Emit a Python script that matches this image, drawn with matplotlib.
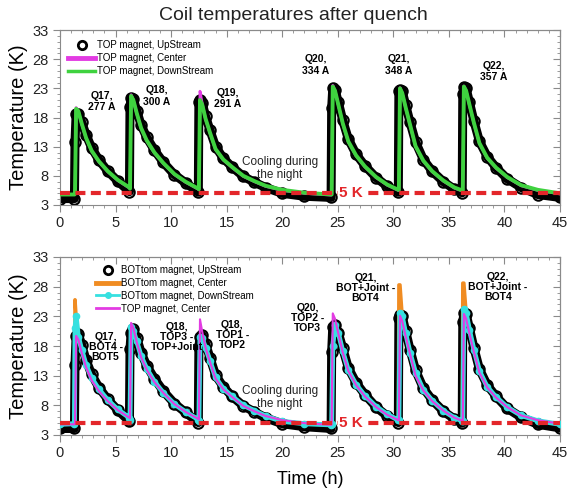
import matplotlib
matplotlib.use("Agg")
import matplotlib.pyplot as plt
from matplotlib.lines import Line2D
from matplotlib.ticker import MultipleLocator, FixedLocator

plt.rcParams['font.family'] = ['Liberation Sans', 'DejaVu Sans']

# ---------------- data ----------------
time_h = [0.0, 1.3, 1.35, 1.45, 1.65, 1.95, 2.35, 2.85, 3.5, 4.3, 5.2, 6.25,
          6.3, 6.4, 6.6, 6.9, 7.3, 7.8, 8.5, 9.3, 10.3, 11.3, 12.45,
          12.5, 12.6, 12.8, 13.1, 13.5, 14.0, 14.7, 15.5, 16.5, 17.5, 18.5, 20.0, 22.0, 24.4,
          24.45, 24.55, 24.75, 25.05, 25.45, 25.95, 26.65, 27.45, 28.45, 29.45, 30.45,
          30.5, 30.6, 30.8, 31.1, 31.5, 32.0, 32.7, 33.5, 34.5, 35.5, 36.2,
          36.25, 36.35, 36.55, 36.85, 37.25, 37.75, 38.45, 39.25, 40.25, 41.5, 43.0, 45.0]

top_upstream = [4.1, 4.1, 13.8, 18.6, 18.6, 17.2, 15.0, 12.8, 10.7, 8.8, 7.1, 5.3,
                19.8, 21.3, 21.2, 19.2, 16.7, 14.6, 12.4, 10.3, 8.2, 6.8, 5.2,
                20.6, 21.0, 20.5, 18.2, 15.8, 13.0, 11.0, 9.5, 7.9, 6.9, 6.0, 5.0, 4.5, 4.3,
                19.6, 23.0, 22.8, 20.6, 17.5, 14.3, 11.7, 9.7, 7.7, 6.2, 5.2,
                22.5, 22.8, 22.5, 20.2, 17.2, 13.8, 10.8, 8.8, 7.0, 5.7, 5.1,
                22.0, 23.3, 23.0, 20.6, 17.4, 13.9, 11.3, 9.4, 7.5, 6.0, 4.8, 4.3]

top_center = [4.8, 4.8, 4.9, 19.7, 19.1, 16.9, 14.4, 12.2, 10.4, 8.7, 7.2, 5.9,
              5.8, 21.9, 21.0, 18.7, 16.1, 14.0, 11.9, 10.1, 8.2, 6.9, 5.7,
              5.6, 22.5, 20.4, 17.7, 15.3, 12.5, 10.7, 9.4, 7.9, 7.0, 6.2, 5.5, 5.0, 4.7,
              4.8, 23.5, 22.6, 20.1, 16.9, 13.8, 11.4, 9.5, 7.7, 6.4, 5.5,
              5.5, 23.1, 22.2, 19.7, 16.7, 13.0, 10.5, 8.7, 7.1, 5.9, 5.4,
              5.3, 23.4, 22.6, 20.1, 17.0, 13.5, 11.0, 9.3, 7.7, 6.3, 5.5, 4.9]

top_downstream = [4.8, 4.8, 4.9, 19.5, 19.1, 17.0, 14.5, 12.3, 10.5, 8.8, 7.3, 6.0,
                  5.8, 21.7, 21.0, 18.8, 16.2, 14.1, 12.0, 10.2, 8.3, 7.0, 5.8,
                  5.7, 21.0, 20.2, 17.8, 15.4, 12.6, 10.8, 9.5, 8.0, 7.1, 6.3, 5.6, 5.1, 4.8,
                  4.8, 23.3, 22.6, 20.2, 17.0, 13.9, 11.5, 9.6, 7.8, 6.5, 5.6,
                  5.6, 23.0, 22.2, 19.8, 16.8, 13.1, 10.6, 8.8, 7.2, 6.0, 5.5,
                  5.4, 23.3, 22.6, 20.2, 17.1, 13.6, 11.1, 9.4, 7.8, 6.4, 5.6, 5.0]

bot_upstream = [4.1, 4.1, 14.8, 19.7, 20.0, 18.2, 15.6, 13.2, 11.0, 9.0, 7.2, 5.3,
                17.5, 20.2, 20.8, 19.4, 16.9, 14.7, 12.5, 10.4, 8.3, 6.8, 5.1,
                17.8, 19.5, 19.8, 18.4, 16.0, 13.1, 11.1, 9.5, 7.9, 6.9, 5.9, 4.9, 4.4, 4.1,
                17.0, 21.2, 21.6, 20.2, 17.6, 14.3, 11.8, 9.8, 7.7, 6.2, 5.1,
                22.8, 23.3, 23.0, 20.6, 17.4, 13.9, 10.9, 8.9, 7.0, 5.7, 5.0,
                22.0, 23.5, 23.4, 21.0, 17.7, 14.1, 11.4, 9.5, 7.5, 6.0, 4.8, 4.2]

bot_center = [4.8, 4.9, 25.8, 23.0, 19.6, 17.4, 14.8, 12.6, 10.7, 8.9, 7.3, 5.9,
              5.6, 21.2, 20.6, 18.8, 16.3, 14.2, 12.0, 10.1, 8.2, 6.9, 5.6,
              5.4, 19.6, 19.3, 17.7, 15.5, 12.7, 10.8, 9.5, 8.0, 7.1, 6.2, 5.3, 4.9, 4.7,
              4.9, 18.0, 21.6, 20.2, 17.1, 13.9, 11.5, 9.6, 7.8, 6.5, 5.5,
              28.3, 28.3, 23.0, 20.2, 16.9, 13.5, 10.6, 8.8, 7.1, 5.9, 5.4,
              28.6, 28.6, 23.6, 20.7, 17.4, 13.8, 11.1, 9.4, 7.7, 6.3, 5.4, 4.8]

bot_downstream = [4.8, 4.9, 21.0, 23.0, 19.6, 17.4, 14.8, 12.6, 10.7, 8.9, 7.3, 5.9,
                  5.6, 21.2, 20.6, 18.8, 16.3, 14.2, 12.0, 10.1, 8.2, 6.9, 5.6,
                  5.4, 19.6, 19.3, 17.7, 15.5, 12.7, 10.8, 9.5, 8.0, 7.1, 6.2, 5.3, 4.9, 4.7,
                  4.9, 18.0, 21.6, 20.2, 17.1, 13.9, 11.5, 9.6, 7.8, 6.5, 5.5,
                  5.5, 23.6, 23.0, 20.2, 16.9, 13.5, 10.6, 8.8, 7.1, 5.9, 5.4,
                  5.3, 24.2, 23.6, 20.7, 17.4, 13.8, 11.1, 9.4, 7.7, 6.3, 5.4, 4.8]

y_ticks = [3, 8, 13, 18, 23, 28, 33]

top_labels = ["Q17,\n277 A", "Q18,\n300 A", "Q19,\n291 A",
              "Q20,\n334 A", "Q21,\n348 A", "Q22,\n357 A"]
top_label_t = [3.8, 8.7, 15.1, 23.0, 30.5, 39.0]
top_label_T = [20.7, 21.7, 21.3, 27.0, 27.0, 25.9]

bot_labels = ["Q17,\nBOT4 -\nBOT5", "Q18,\nTOP3 -\nTOP+Joint", "Q18,\nTOP1 -\nTOP2",
              "Q20,\nTOP2 -\nTOP3", "Q21,\nBOT+Joint -\nBOT4", "Q22,\nBOT+Joint -\nBOT4"]
bot_label_t = [4.1, 10.5, 15.5, 22.3, 27.5, 39.4]
bot_label_T = [17.8, 19.5, 19.9, 22.7, 27.8, 28.0]

ref_temperature = 5.0

# ---------------- style ----------------
C_GREEN = '#3fd23f'
C_MAG = '#e23be2'
C_ORANGE = '#f08c22'
C_CYAN = '#36e0e0'
C_RED = '#e3262a'
SPINE = '#8a8a8a'

W, H = 568, 496
fig = plt.figure(figsize=(W / 100, H / 100), dpi=100)
ax_top = fig.add_axes([60 / W, 1 - 205 / H, 500 / W, 175 / H])
ax_bot = fig.add_axes([60 / W, 1 - 435 / H, 500 / W, 178 / H])


def style_axes(ax):
    ax.set_xlim(0, 45)
    ax.set_ylim(3, 33)
    ax.xaxis.set_major_locator(MultipleLocator(5))
    ax.xaxis.set_minor_locator(MultipleLocator(1))
    ax.yaxis.set_major_locator(FixedLocator(y_ticks))
    ax.yaxis.set_minor_locator(MultipleLocator(1))
    for s in ax.spines.values():
        s.set_color(SPINE)
        s.set_linewidth(0.8)
    ax.tick_params(which='both', direction='out', color=SPINE, labelsize=10.5,
                   labelcolor='#222222')
    ax.tick_params(which='major', length=5, width=0.8, pad=3)
    ax.tick_params(which='minor', length=2.5, width=0.6)
    sx = ax.secondary_xaxis('top')
    sx.xaxis.set_major_locator(MultipleLocator(5))
    sx.xaxis.set_minor_locator(MultipleLocator(1))
    sx.tick_params(which='both', direction='in', labeltop=False, color=SPINE)
    sx.tick_params(which='major', length=5, width=0.8)
    sx.tick_params(which='minor', length=2.5, width=0.6)
    sx.spines['top'].set_color(SPINE)
    sy = ax.secondary_yaxis('right')
    sy.yaxis.set_major_locator(FixedLocator(y_ticks))
    sy.yaxis.set_minor_locator(MultipleLocator(1))
    sy.tick_params(which='both', direction='in', labelright=False, color=SPINE)
    sy.tick_params(which='major', length=5, width=0.8)
    sy.tick_params(which='minor', length=2.5, width=0.6)
    sy.spines['right'].set_color(SPINE)
    ax.set_ylabel('Temperature (K)', fontsize=14.5, labelpad=3)
    ax.axhline(ref_temperature, color=C_RED, lw=3, dashes=(2.4, 1.3), zorder=6)
    ax.text(26.2, ref_temperature, '5 K', color=C_RED, fontsize=11, fontweight='bold',
            ha='center', va='center', zorder=7,
            bbox=dict(facecolor='white', edgecolor='none', pad=0.5))
    ax.text(19.8, 9.3, 'Cooling during\nthe night', fontsize=8.5, ha='center',
            va='center', linespacing=1.1, color='#222222', zorder=8)


# ---------------- top panel ----------------
ax = ax_top
style_axes(ax)
ax.plot(time_h, top_upstream, color='black', lw=6.5, marker='o', ms=7.5, mfc='none',
        mew=1.5, solid_joinstyle='round', zorder=2)
ax.plot(time_h, top_center, color=C_MAG, lw=2.0, zorder=3)
ax.plot(time_h, top_downstream, color=C_GREEN, lw=2.8, zorder=4)
for lab, t, T in zip(top_labels, top_label_t, top_label_T):
    ax.text(t, T, lab, fontsize=7.5, fontweight='bold', ha='center', va='center',
            linespacing=1.15, zorder=8)
handles = [Line2D([], [], color='black', ls='none', marker='o', ms=6, mfc='none', mew=2),
           Line2D([], [], color=C_MAG, lw=3.5),
           Line2D([], [], color=C_GREEN, lw=2.5)]
ax.legend(handles, ['TOP magnet, UpStream', 'TOP magnet, Center', 'TOP magnet, DownStream'],
          loc='upper left', bbox_to_anchor=(0.016, 0.94), frameon=False, fontsize=7,
          handlelength=2.8, handletextpad=0.2, labelspacing=0.3, borderpad=0,
          borderaxespad=0, numpoints=1)

# ---------------- bottom panel ----------------
ax = ax_bot
style_axes(ax)
ax.plot(time_h, bot_upstream, color='black', lw=6.5, marker='o', ms=7.5, mfc='none',
        mew=1.5, solid_joinstyle='round', zorder=2)
ax.plot(time_h, bot_center, color=C_ORANGE, lw=2.5, zorder=3)
ax.plot(time_h, bot_downstream, color=C_CYAN, lw=3.5, marker='o', ms=4.5, zorder=4)
ax.plot(time_h, top_center, color=C_MAG, lw=1.5, zorder=5)
for lab, t, T in zip(bot_labels, bot_label_t, bot_label_T):
    ax.text(t, T, lab, fontsize=7.5, fontweight='bold', ha='center', va='center',
            linespacing=1.0, zorder=8)
handles = [Line2D([], [], color='black', ls='none', marker='o', ms=6, mfc='none', mew=2),
           Line2D([], [], color=C_ORANGE, lw=3.5),
           Line2D([], [], color=C_CYAN, lw=2, marker='o', ms=4),
           Line2D([], [], color=C_MAG, lw=2)]
ax.legend(handles, ['BOTtom magnet, UpStream', 'BOTtom magnet, Center',
                    'BOTtom magnet, DownStream', 'TOP magnet, Center'],
          loc='upper left', bbox_to_anchor=(0.072, 0.955), frameon=False, fontsize=7,
          handlelength=2.4, handletextpad=0.2, labelspacing=0.3, borderpad=0,
          borderaxespad=0, numpoints=1)
ax.set_xlabel('Time (h)', fontsize=13, labelpad=8)

fig.text(293 / W, 1 - 15 / H, 'Coil temperatures after quench', fontsize=14,
         ha='center', va='center', color='#222222')

fig.savefig('out.png', dpi=100)
